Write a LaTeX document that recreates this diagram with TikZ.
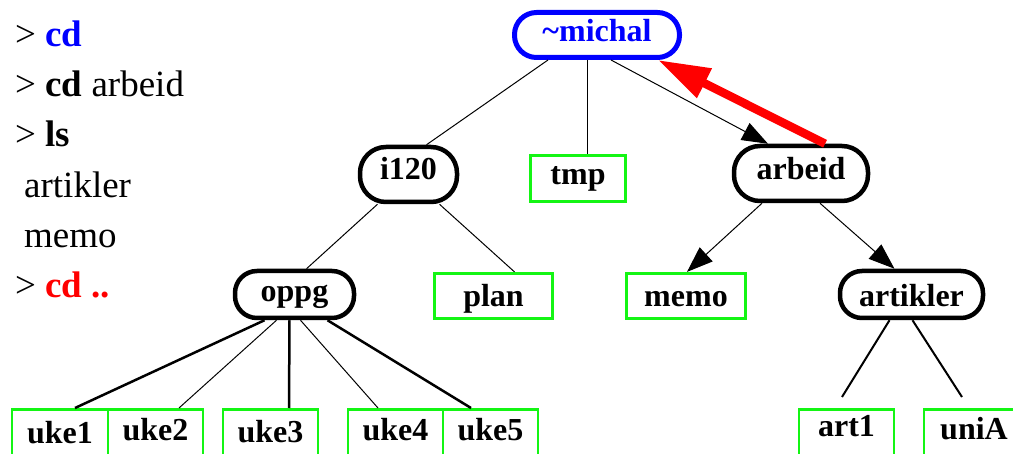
\documentclass[tikz,border=0pt]{standalone}
\usepackage{fontspec}
\setmainfont{Liberation Serif}
\usetikzlibrary{arrows.meta,calc}
\definecolor{fgreen}{RGB}{20,245,20}
\newcommand{\nodefnt}{\bfseries\fontsize{32}{36}\selectfont}
\newcommand{\cmdfnt}{\fontsize{37}{42}\selectfont}
\begin{document}
\begin{tikzpicture}[x=1pt,y=-1pt,
  dirbox/.style={draw, line width=4.5pt, rounded corners=22pt, inner sep=0pt,
    font=\nodefnt, text depth=0pt},
  filebox/.style={draw=fgreen, line width=2.7pt, inner sep=0pt,
    font=\nodefnt, text depth=0pt},
  th/.style={text height=#1},
  cmdtext/.style={anchor=base west, inner sep=0pt, font=\cmdfnt},
  thin/.style={line width=1pt},
  thick/.style={line width=2.5pt},
  arr/.style={line width=1pt, -{Triangle[length=26pt,width=19pt]}},
  redarr/.style={draw=red, line width=8.5pt, -{Triangle[length=52pt,width=31pt]}}
]
\useasboundingbox (0,0) rectangle (1013,454);

% command lines
\node[cmdtext] (l1) at (15,47) {> \textcolor{blue}{\textbf{cd}}};
\node[cmdtext] (l2) at (15,97) {> \textbf{cd} arbeid};
\node[cmdtext] (l3) at (15,147) {> \textbf{ls}};
\node[cmdtext] (l4) at (24,198) {artikler};
\node[cmdtext] (l5) at (24,248) {memo};
\node[cmdtext] (l6) at (15,298) {> \textcolor{red}{\textbf{cd ..}}};

% directory nodes
\node[dirbox, draw=blue, line width=5pt, text=blue, minimum width=165pt, minimum height=45pt, th=14pt] (michal) at (597,35) {\textasciitilde michal};
\node[dirbox, rounded corners=26pt, minimum width=97pt, minimum height=55pt, th=11pt] (i120) at (408.5,174.5) {i120};
\node[dirbox, rounded corners=26pt, minimum width=134pt, minimum height=55pt, th=13pt] (arbeid) at (801,173.5) {arbeid};
\node[dirbox, minimum width=119pt, minimum height=47pt, th=14pt] (oppg) at (294.5,294.5) {oppg};
\node[dirbox, minimum width=143pt, minimum height=47pt, th=25pt] (artikler) at (911.5,294.5) {artikler};

% file nodes
\node[filebox, minimum width=95.5pt, minimum height=46.5pt, th=13pt] (tmp) at (578,178.5) {tmp};
\node[filebox, minimum width=118.5pt, minimum height=45.5pt, th=21pt] (plan) at (493.5,296) {plan};
\node[filebox, minimum width=119.5pt, minimum height=45.5pt, th=21pt] (memo) at (686,296) {memo};

\node[filebox, anchor=north, minimum width=96pt, minimum height=50pt, th=18pt] (uke1) at (60,408) {uke1};
\node[filebox, anchor=north, minimum width=95pt, minimum height=50pt, th=12pt] (uke2) at (155.5,408) {uke2};
\node[filebox, anchor=north, minimum width=95pt, minimum height=50pt, th=16pt] (uke3) at (270.5,408) {uke3};
\node[filebox, anchor=north, minimum width=95pt, minimum height=50pt, th=12pt] (uke4) at (395.5,408) {uke4};
\node[filebox, anchor=north, minimum width=95pt, minimum height=50pt, th=12pt] (uke5) at (490.5,408) {uke5};
\node[filebox, anchor=north, minimum width=95pt, minimum height=50pt, th=5pt] (art1) at (846.5,408) {art1};
\node[filebox, anchor=north, minimum width=100pt, minimum height=50pt, th=10pt] (uniA) at (974,408) {uniA};

% connectors
\draw[thin] ([xshift=-49pt]michal.south) -- ([xshift=18pt]i120.north);
\draw[thin] ([xshift=-10pt]michal.south) -- ([xshift=9pt]tmp.north);
\draw[arr] ([xshift=14pt]michal.south) -- ([xshift=-33pt]arbeid.north);

\draw[thin] ([xshift=-31pt]i120.south) -- ([xshift=12pt]oppg.north);
\draw[thin] ([xshift=31pt]i120.south) -- ([xshift=21pt]plan.north);

\draw[thick] ([xshift=-30pt]oppg.south) -- ([xshift=15pt]uke1.north);
\draw[thin] ([xshift=-18pt]oppg.south) -- ([xshift=23.5pt]uke2.north);
\draw[thick] ([xshift=-5pt]oppg.south) -- ([xshift=18.5pt]uke3.north);
\draw[thin] ([xshift=6pt]oppg.south) -- ([xshift=-17.5pt]uke4.north);
\draw[thick] ([xshift=33pt]oppg.south) -- ([xshift=-19.5pt]uke5.north);

\draw[arr] ([xshift=-39pt]arbeid.south) -- ([xshift=1pt]memo.north);
\draw[arr] ([xshift=19pt]arbeid.south) -- ([xshift=-17pt]artikler.north);

\draw[line width=2pt] ([xshift=-22pt]artikler.south) -- ([xshift=-4.5pt,yshift=11pt]art1.north);
\draw[line width=2pt] ([xshift=1pt]artikler.south) -- ([xshift=-12pt,yshift=11pt]uniA.north);

\draw[redarr] ([xshift=24pt]arbeid.north) -- ([xshift=61pt]michal.south);
\end{tikzpicture}
\end{document}
